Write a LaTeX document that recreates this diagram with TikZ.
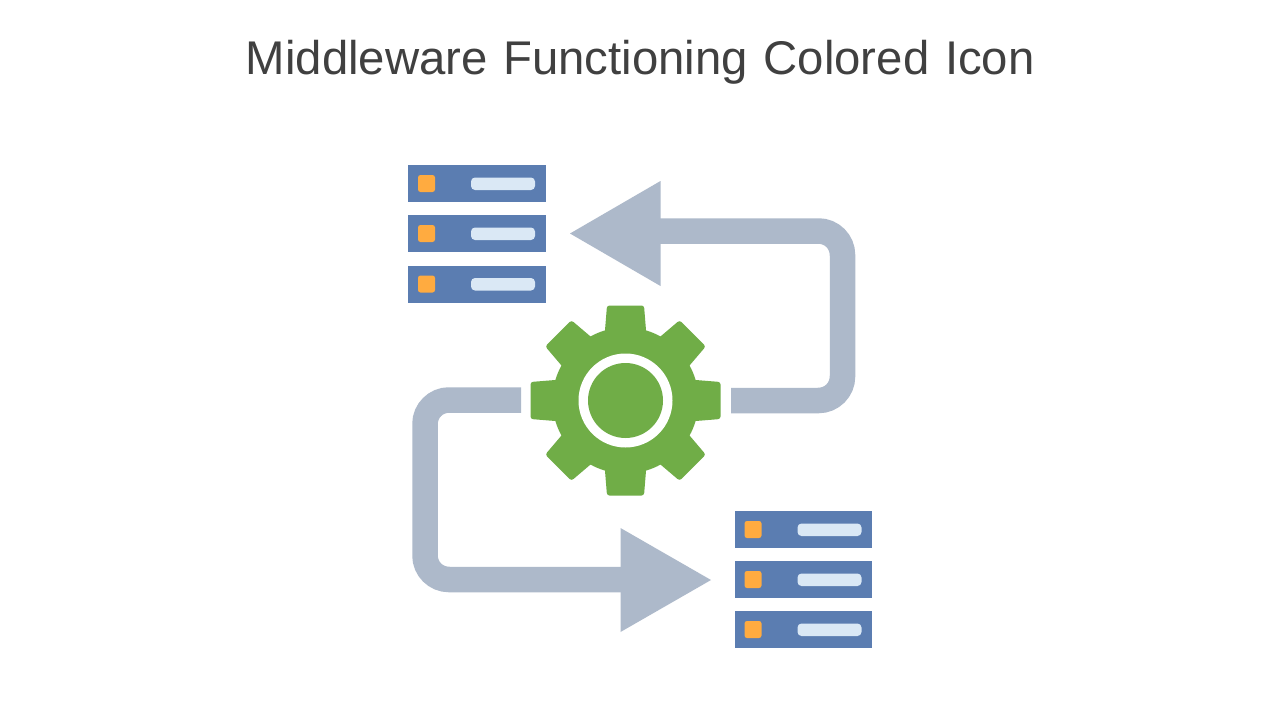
\documentclass[tikz,border=0pt]{standalone}
\usepackage{fontspec}
\setmainfont[WordSpace=1.2]{Liberation Sans}
\definecolor{arrowc}{HTML}{ADB9CA}
\definecolor{rackc}{HTML}{5B7DB1}
\definecolor{ledc}{HTML}{FFAB40}
\definecolor{slotc}{HTML}{DAE8F5}
\definecolor{gearc}{HTML}{70AD47}
\definecolor{titlec}{HTML}{404040}
\tikzset{
  shaft/.style={draw=arrowc,line width=25.5pt,rounded corners=24pt},
  headtip/.style={fill=arrowc},
  rackbar/.style={fill=rackc},
  led/.style={fill=ledc,rounded corners=2.5pt},
  slot/.style={fill=slotc,rounded corners=4pt},
  gearfill/.style={fill=gearc}
}
\newcommand{\rackunit}[2]{%
  \begin{scope}[shift={(#1,#2)}]
    \fill[rackbar] (0,0) rectangle (137.5,37);
    \fill[led] (10,10) rectangle (27,27);
    \fill[slot] (63,12.5) rectangle (127,25);
  \end{scope}}
\begin{document}
\begin{tikzpicture}[x=1pt,y=-1pt]
\useasboundingbox (0,0) rectangle (1280,720);
\fill[white] (0,0) rectangle (1280,720);
\node[text=titlec,font=\fontsize{47.3}{50}\selectfont,anchor=base] (title) at (640.3,74) {Middleware Functioning Colored Icon};
% upper arrow
\coordinate (a1) at (731,400.5);
\coordinate (a2) at (842.5,400.5);
\coordinate (a3) at (842.5,231);
\coordinate (a4) at (650,231);
\draw[shaft] (a1) -- (a2) -- (a3) -- (a4);
\fill[headtip] (570,233.5) -- (660.5,181) -- (660.5,286) -- cycle;
% lower arrow
\coordinate (b1) at (521,400);
\coordinate (b2) at (425,400);
\coordinate (b3) at (425,579.5);
\coordinate (b4) at (630,579.5);
\draw[shaft] (b1) -- (b2) -- (b3) -- (b4);
\fill[headtip] (711,580) -- (620.5,528) -- (620.5,632) -- cycle;
% racks
\rackunit{408}{165}\rackunit{408}{215}\rackunit{408}{265.5}
\rackunit{734.5}{511}\rackunit{734.5}{561}\rackunit{734.5}{611}
% gear
\begin{scope}[shift={(625.5,400.5)}]
  \fill[gearfill] (0,0) circle (73);
  \foreach \a in {0,45,...,315}{
    \fill[gearfill,rotate=\a] (-21.5,-58) [rounded corners=2.5pt] -- (-18.5,-95) -- (18.5,-95) -- (21.5,-58) [sharp corners] -- cycle;
  }
  \fill[white] (0,0) circle (47);
  \fill[gearfill] (0,0) circle (37.5);
\end{scope}
\end{tikzpicture}
\end{document}
